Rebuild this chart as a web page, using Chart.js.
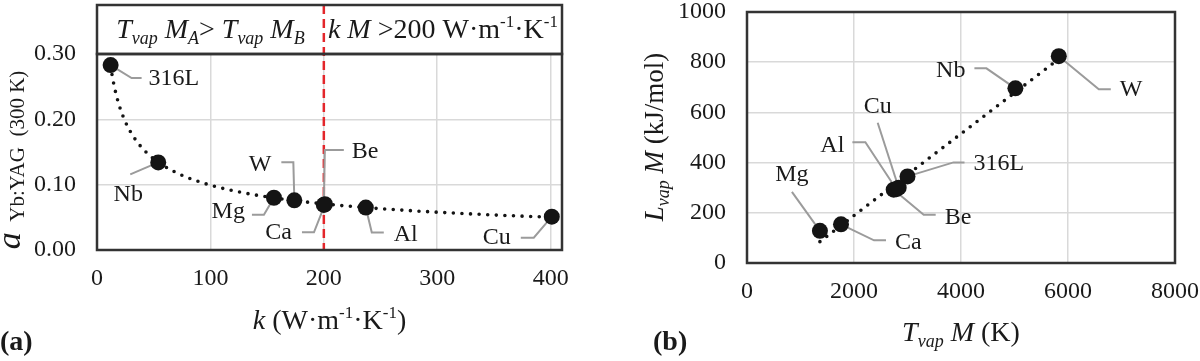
<!DOCTYPE html>
<html>
<head>
<meta charset="utf-8">
<title>Absorptance and vaporisation of metals</title>
<script src="https://cdn.jsdelivr.net/npm/chart.js@4.4.1/dist/chart.umd.min.js"></script>
<style>
  body { margin: 0; background: #fff; }
  #wrap { position: relative; width: 1200px; height: 361px; }
  #wrap canvas { position: absolute; top: 0; }
</style>
</head>
<body>
<div id="wrap">
  <canvas id="chartA" width="600" height="361" style="left:0"></canvas>
  <canvas id="chartB" width="600" height="361" style="left:600px"></canvas>
</div>
<script>
// Metals, same order in every array below
const metals = ['316L', 'Nb', 'Mg', 'W', 'Be', 'Ca', 'Al', 'Cu'];
// (a) thermal conductivity k vs absorptance (Yb:YAG, 300 K)
const kValues = [12, 54, 156, 174, 200, 201, 237, 401];
const absValues = [0.283, 0.134, 0.080, 0.076, 0.069, 0.070, 0.065, 0.051];
// (b) vaporisation temperature vs latent heat of vaporisation
const tvapValues = [3000, 5017, 1363, 5828, 2742, 1757, 2792, 2835];
const lvapValues = [345, 696, 128, 824, 292, 154, 294, 300];
// axis ticks
const kTicks = [0, 100, 200, 300, 400];
const absTicks = [0, 0.1, 0.2, 0.3];
const tvapTicks = [0, 2000, 4000, 6000, 8000];
const lvapTicks = [0, 200, 400, 600, 800, 1000];
const kThreshold = 200;

// callout placement, in pixels from the marker: leader bend points and label anchor
const calloutsA = {
    '316L': { path: [[21, 13], [31, 13]], text: [38, 14, 'left'] },
    'Nb':   { path: [[-28, 12]], text: [-30, 32, 'center'] },
    'Mg':   { path: [[-10, 17], [-22, 17]], text: [-29, 14, 'right'] },
    'W':    { path: [[-1, -38], [-13, -38]], text: [-23, -36, 'right'] },
    'Be':   { path: [[1, -55], [20, -55]], text: [28, -53, 'left'] },
    'Ca':   { path: [[-11, 28], [-23, 28]], text: [-33, 28, 'right'] },
    'Al':   { path: [[6, 25], [18, 25]], text: [28, 27, 'left'] },
    'Cu':   { path: [[-18, 21], [-31, 21]], text: [-41, 21, 'right'] }
};
const calloutsB = {
    '316L': { path: [[46, -14], [57, -14]], text: [66, -13, 'left'] },
    'Nb':   { path: [[-29, -20], [-41, -20]], text: [-50, -18, 'right'] },
    'Mg':   { path: [[-28, -39]], text: [-28, -56, 'center'] },
    'W':    { path: [[40, 33], [52, 33]], text: [61, 34, 'left'] },
    'Be':   { path: [[30, 25], [42, 25]], text: [51, 28, 'left'] },
    'Ca':   { path: [[33, 16], [45, 16]], text: [54, 18, 'left'] },
    'Al':   { path: [[-31, -47], [-44, -47]], text: [-52, -44, 'right'] },
    'Cu':   { path: [[-21, -65]], text: [-21, -81, 'center'] }
};

const SERIF = '"Liberation Serif", "Times New Roman", serif';
const INK = '#1a1a1a';

function fontOf(size, italic, bold) {
    return (italic ? 'italic ' : '') + (bold ? 'bold ' : '') + size + 'px ' + SERIF;
}

// runs: [text, size, italic, baseline shift]
function drawRuns(ctx, runs, x, y, align) {
    let total = 0;
    runs.forEach(r => { ctx.font = fontOf(r[1], r[2]); total += ctx.measureText(r[0]).width; });
    let cx = align === 'center' ? x - total / 2 : (align === 'right' ? x - total : x);
    ctx.textAlign = 'left';
    ctx.textBaseline = 'alphabetic';
    runs.forEach(r => {
        ctx.font = fontOf(r[1], r[2]);
        ctx.fillText(r[0], cx, y + (r[3] || 0));
        cx += ctx.measureText(r[0]).width;
    });
}

// trendlines fitted to the data, as the spreadsheet did
function powerTrend(xs, ys) {
    const lx = xs.map(Math.log), ly = ys.map(Math.log);
    const n = xs.length;
    const mx = lx.reduce((a, b) => a + b) / n, my = ly.reduce((a, b) => a + b) / n;
    let sxy = 0, sxx = 0;
    for (let i = 0; i < n; i++) { sxy += (lx[i] - mx) * (ly[i] - my); sxx += (lx[i] - mx) ** 2; }
    const b = sxy / sxx, c = Math.exp(my - b * mx);
    const lo = Math.min(...xs), hi = Math.max(...xs);
    const pts = [];
    for (let i = 0; i <= 80; i++) {
        const x = lo * Math.pow(hi / lo, i / 80);
        pts.push({ x: x, y: c * Math.pow(x, b) });
    }
    return pts;
}
function linearTrend(xs, ys) {
    const n = xs.length;
    const mx = xs.reduce((a, b) => a + b) / n, my = ys.reduce((a, b) => a + b) / n;
    let sxy = 0, sxx = 0;
    for (let i = 0; i < n; i++) { sxy += (xs[i] - mx) * (ys[i] - my); sxx += (xs[i] - mx) ** 2; }
    const m = sxy / sxx, q = my - m * mx;
    const lo = Math.min(...xs), hi = Math.max(...xs);
    return [{ x: lo, y: m * lo + q }, { x: hi, y: m * hi + q }];
}

function makeDecor(cfg) {
    return {
        id: 'decor',
        beforeDatasetsDraw(chart) {
            const ctx = chart.ctx, meta = chart.getDatasetMeta(0);
            ctx.save();
            if (cfg.redLineAt !== undefined) {
                const x = chart.scales.x.getPixelForValue(cfg.redLineAt);
                ctx.strokeStyle = '#e3262b';
                ctx.lineWidth = 2.5;
                ctx.setLineDash([9, 5]);
                ctx.beginPath();
                ctx.moveTo(x, cfg.headerTop);
                ctx.lineTo(x, chart.chartArea.bottom);
                ctx.stroke();
                ctx.setLineDash([]);
            }
            ctx.strokeStyle = '#9b9b9b';
            ctx.lineWidth = 2;
            metals.forEach((m, i) => {
                const p = meta.data[i], c = cfg.callouts[m];
                ctx.beginPath();
                ctx.moveTo(p.x, p.y);
                c.path.forEach(d => ctx.lineTo(p.x + d[0], p.y + d[1]));
                ctx.stroke();
            });
            ctx.restore();
        },
        afterDraw(chart) {
            const ctx = chart.ctx, a = chart.chartArea, meta = chart.getDatasetMeta(0);
            ctx.save();
            ctx.fillStyle = INK;
            // labels
            ctx.font = fontOf(24);
            ctx.textBaseline = 'middle';
            metals.forEach((m, i) => {
                const p = meta.data[i], t = cfg.callouts[m].text;
                ctx.textAlign = t[2];
                ctx.fillText(m, p.x + t[0], p.y + t[1]);
            });
            // frame
            ctx.strokeStyle = '#333';
            ctx.lineWidth = 2.5;
            ctx.strokeRect(a.left, a.top, a.right - a.left, a.bottom - a.top);
            if (cfg.header) {
                ctx.strokeRect(a.left, cfg.headerTop, a.right - a.left, a.top - cfg.headerTop);
                const split = chart.scales.x.getPixelForValue(cfg.redLineAt);
                drawRuns(ctx, cfg.header[0], (a.left + split) / 2, cfg.headerBase, 'center');
                drawRuns(ctx, cfg.header[1], (split + a.right) / 2, cfg.headerBase, 'center');
            }
            // axis titles
            drawRuns(ctx, cfg.xTitle, (a.left + a.right) / 2, cfg.xTitleBase, 'center');
            ctx.save();
            ctx.translate(cfg.yTitleBase, cfg.yTitleMid);
            ctx.rotate(-Math.PI / 2);
            drawRuns(ctx, cfg.yTitle, 0, 0, 'center');
            ctx.restore();
            // panel letter
            ctx.font = fontOf(28, false, true);
            ctx.textAlign = 'left';
            ctx.textBaseline = 'alphabetic';
            ctx.fillText(cfg.letter[0], cfg.letter[1], cfg.letter[2]);
            ctx.restore();
        }
    };
}

function axis(ticks, min, max, size, fmt, pad) {
    return {
        type: 'linear',
        min: min,
        max: max,
        afterBuildTicks: s => { s.ticks = ticks.map(v => ({ value: v })); },
        afterFit: s => {
            if (s.isHorizontal()) s.height = size; else s.width = size;
            // keep the plot area where the frame is, labels may overhang
            s.paddingTop = s.paddingBottom = s.paddingLeft = s.paddingRight = 0;
        },
        ticks: {
            font: { family: SERIF, size: 24 },
            color: INK,
            padding: pad,
            callback: fmt
        },
        grid: { color: '#d9d9d9', lineWidth: 1.5, drawTicks: false },
        border: { display: false }
    };
}

function makeChart(id, xs, ys, trend, scales, padding, decor) {
    return new Chart(document.getElementById(id), {
        type: 'scatter',
        data: {
            datasets: [{
                data: xs.map((x, i) => ({ x: x, y: ys[i] })),
                pointRadius: 8,
                pointBackgroundColor: '#141414',
                pointBorderWidth: 0
            }, {
                type: 'line',
                data: trend,
                showLine: true,
                pointRadius: 0,
                borderColor: '#141414',
                borderWidth: 3.6,
                borderDash: [0, 8.6],
                borderCapStyle: 'round',
                fill: false
            }]
        },
        options: {
            responsive: false,
            animation: false,
            layout: { padding: padding },
            plugins: { legend: { display: false }, tooltip: { enabled: false } },
            scales: scales
        },
        plugins: [makeDecor(decor)]
    });
}

// (a)
makeChart('chartA', kValues, absValues, powerTrend(kValues, absValues), {
    x: axis(kTicks, 0, 410, 111, v => String(v), 14),
    y: axis(absTicks, 0, 0.3, 97, v => v.toFixed(2), 21)
}, { left: 0, top: 54, right: 38, bottom: 0 }, {
    callouts: calloutsA,
    redLineAt: kThreshold,
    headerTop: 5,
    headerBase: 38,
    header: [
        [['T', 28, 1], ['vap', 18, 1, 6], [' M', 28, 1], ['A', 18, 1, 6], ['> ', 28, 0],
         ['T', 28, 1], ['vap', 18, 1, 6], [' M', 28, 1], ['B', 18, 1, 6]],
        [['k M ', 28, 1], ['>200 W·m', 28, 0], ['-1', 17, 0, -11], ['·K', 28, 0], ['-1', 17, 0, -11]]
    ],
    xTitle: [['k', 28, 1], [' (W·m', 28, 0], ['-1', 17, 0, -11], ['·K', 28, 0], ['-1', 17, 0, -11], [')', 28, 0]],
    xTitleBase: 329,
    yTitle: [['a', 34, 1], ['  Yb:YAG  (300 K)', 21, 0, 4]],
    yTitleBase: 20,
    yTitleMid: 160,
    letter: ['(a)', 0, 350]
});

// (b)
makeChart('chartB', tvapValues, lvapValues, linearTrend(tvapValues, lvapValues), {
    x: axis(tvapTicks, 0, 8000, 98, v => String(v), 14),
    y: axis(lvapTicks, 0, 1000, 147, v => String(v), 21)
}, { left: 0, top: 12, right: 25, bottom: 0 }, {
    callouts: calloutsB,
    xTitle: [['T', 28, 1], ['vap', 18, 1, 6], [' M', 28, 1], [' (K)', 28, 0]],
    xTitleBase: 341,
    yTitle: [['L', 27, 1], ['vap', 18, 1, 6], [' M', 27, 1], [' (kJ/mol)', 27, 0]],
    yTitleBase: 63,
    yTitleMid: 137,
    letter: ['(b)', 53, 350]
});
</script>
</body>
</html>
